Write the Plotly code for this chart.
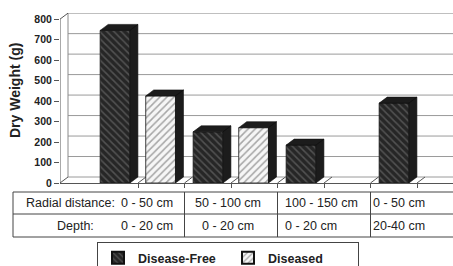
import plotly.graph_objects as go

# ---------------- data ----------------
radial = ["0 - 50 cm", "50 - 100 cm", "100 - 150 cm", "0 - 50 cm"]
depth = ["0 - 20 cm", "0 - 20 cm", "0 - 20 cm", "20-40 cm"]
disease_free = [745, 250, 185, 390]
diseased = [425, 270, None, None]
y_ticks = [0, 100, 200, 300, 400, 500, 600, 700, 800]
series_names = ["Disease-Free", "Diseased"]

# ---------------- layout constants ----------------
W, H = 453, 266
ML, MR, MT, MB = 60, 0, 13, 83
PW, PH = W - ML - MR, H - MT - MB
UNIT_PX = 93.0
XMIN = -(138 - ML) / UNIT_PX
XMAX = XMIN + PW / UNIT_PX
YMAX = 830
PX_PER_Y = PH / YMAX
DX = 8 / UNIT_PX
DY = 6 / PX_PER_Y
BW = 0.32
OFF_DF = -0.407
OFF_D = 0.083
FONT = "Liberation Sans, Arial, sans-serif"
DARK = "#1c1c1c"
LINE = "#555555"
# table cell text alignment per column: (anchor, shift in category units)
CELL_ALIGN = [("center", 0.1), ("center", -0.03), ("left", -0.44), ("left", -0.5)]


def py2paper(py):
    return (MT + PH - py) / PH


def px2paper(px):
    return (px - ML) / PW


idx = list(range(len(radial)))

fig = go.Figure()

fig.add_trace(go.Bar(
    x=idx, y=disease_free, width=BW, offset=OFF_DF, name=series_names[0],
    marker=dict(color="#262626", line=dict(color="#111111", width=0.8),
                pattern=dict(shape="\\", bgcolor="#262626", fgcolor="#7e7e7e",
                             size=5, solidity=0.3)),
    hoverinfo="skip",
))
fig.add_trace(go.Bar(
    x=idx, y=diseased, width=BW, offset=OFF_D, name=series_names[1],
    marker=dict(color="#f6f6f6", line=dict(color="#111111", width=0.8),
                pattern=dict(shape="/", bgcolor="#f6f6f6", fgcolor="#555555",
                             size=5, solidity=0.3)),
    hoverinfo="skip",
))


# 3D top & side faces derived from the data
def faces(vals, off):
    xs, ys = [], []
    for i, v in enumerate(vals):
        if v is None:
            continue
        xl = i + off
        xr = xl + BW
        xs += [xr, xr + DX, xr + DX, xr, xr, None]
        ys += [0, DY, v + DY, v, 0, None]
        xs += [xl, xl + DX, xr + DX, xr, xl, None]
        ys += [v, v + DY, v + DY, v, v, None]
    return xs, ys


for vals, off in ((disease_free, OFF_DF), (diseased, OFF_D)):
    fx, fy = faces(vals, off)
    fig.add_trace(go.Scatter(x=fx, y=fy, mode="lines", fill="toself",
                             fillcolor=DARK, line=dict(color="#111111", width=0.6),
                             showlegend=False, hoverinfo="skip"))

shapes = []
# back-wall gridlines
for v in y_ticks:
    shapes.append(dict(type="line", xref="x", yref="y", x0=XMIN + DX, x1=XMAX,
                       y0=v + DY, y1=v + DY, line=dict(color="#9a9a9a", width=1),
                       layer="below"))
# left wall
shapes.append(dict(type="line", xref="x", yref="y", x0=XMIN, x1=XMIN, y0=0, y1=800,
                   line=dict(color=LINE, width=1)))
shapes.append(dict(type="line", xref="x", yref="y", x0=XMIN + DX, x1=XMIN + DX,
                   y0=DY, y1=800 + DY, line=dict(color="#8a8a8a", width=1), layer="below"))
shapes.append(dict(type="line", xref="x", yref="y", x0=XMIN, x1=XMIN + DX,
                   y0=800, y1=800 + DY, line=dict(color=LINE, width=1)))
shapes.append(dict(type="line", xref="x", yref="y", x0=XMIN, x1=XMIN + DX,
                   y0=0, y1=DY, line=dict(color=LINE, width=1)))
# floor diagonals
k = 0.0
while k < XMAX:
    shapes.append(dict(type="line", xref="x", yref="y", x0=k, x1=k + DX,
                       y0=0, y1=DY, line=dict(color=LINE, width=1), layer="below"))
    k += 0.5

# data table
t_top, t_mid, t_bot = py2paper(192), py2paper(214), py2paper(237)
t_left = px2paper(13)
for yy in (t_top, t_mid, t_bot):
    shapes.append(dict(type="line", xref="paper", yref="paper", x0=t_left, x1=1.0,
                       y0=yy, y1=yy, line=dict(color="#444444", width=1)))
shapes.append(dict(type="line", xref="paper", yref="paper", x0=t_left, x1=t_left,
                   y0=t_top, y1=t_bot, line=dict(color="#444444", width=1)))
for b in (0.5, 1.5, 2.5):
    shapes.append(dict(type="line", xref="x", yref="paper", x0=b, x1=b,
                       y0=t_top, y1=t_bot, line=dict(color="#444444", width=1)))

annotations = []
r1 = (t_top + t_mid) / 2
r2 = (t_mid + t_bot) / 2
tf = dict(family=FONT, size=12.5, color="#222222")
annotations.append(dict(text="Radial distance:", xref="paper", yref="paper",
                        x=px2paper(70), y=r1, showarrow=False, font=tf,
                        xanchor="center", yanchor="middle"))
annotations.append(dict(text="Depth:", xref="paper", yref="paper",
                        x=px2paper(75), y=r2, showarrow=False, font=tf,
                        xanchor="center", yanchor="middle"))
for i in idx:
    anchor, shift = CELL_ALIGN[i]
    annotations.append(dict(text=radial[i], xref="x", yref="paper", x=i + shift, y=r1,
                            showarrow=False, font=tf, xanchor=anchor, yanchor="middle"))
    annotations.append(dict(text=depth[i], xref="x", yref="paper", x=i + shift, y=r2,
                            showarrow=False, font=tf, xanchor=anchor, yanchor="middle"))
# y-axis title
annotations.append(dict(text="<b>Dry Weight (g)</b>", xref="paper", yref="paper",
                        x=px2paper(15), y=py2paper(91), textangle=-90, showarrow=False,
                        xanchor="center", yanchor="middle",
                        font=dict(family=FONT, size=14, color="#222222")))

fig.update_layout(
    width=W, height=H,
    margin=dict(l=ML, r=MR, t=MT, b=MB, autoexpand=False),
    paper_bgcolor="white", plot_bgcolor="white",
    barmode="overlay",
    font=dict(family=FONT, color="#222222"),
    shapes=shapes, annotations=annotations,
    showlegend=True,
    legend=dict(orientation="h", x=px2paper(97), y=py2paper(242),
                xanchor="left", yanchor="top",
                bordercolor="#444444", borderwidth=1, bgcolor="white",
                font=dict(family=FONT, size=12.5, color="#222222", weight="bold"),
                entrywidth=85, itemsizing="constant"),
    xaxis=dict(range=[XMIN, XMAX], showgrid=False, zeroline=False,
               showline=True, linecolor=LINE, linewidth=1,
               tickvals=[i * 0.5 for i in range(8)], ticks="outside", ticklen=4,
               tickcolor=LINE, showticklabels=False, fixedrange=True),
    yaxis=dict(range=[0, YMAX], showgrid=False, zeroline=False, showline=False,
               tickvals=y_ticks, ticks="outside", ticklen=5, tickcolor=LINE,
               tickfont=dict(family=FONT, size=10.5, color="#222222", weight="bold"),
               fixedrange=True),
)

fig.write_html("out.html", config={"displayModeBar": False},
               post_script="document.body.style.margin='0';document.body.style.overflow='hidden';")
